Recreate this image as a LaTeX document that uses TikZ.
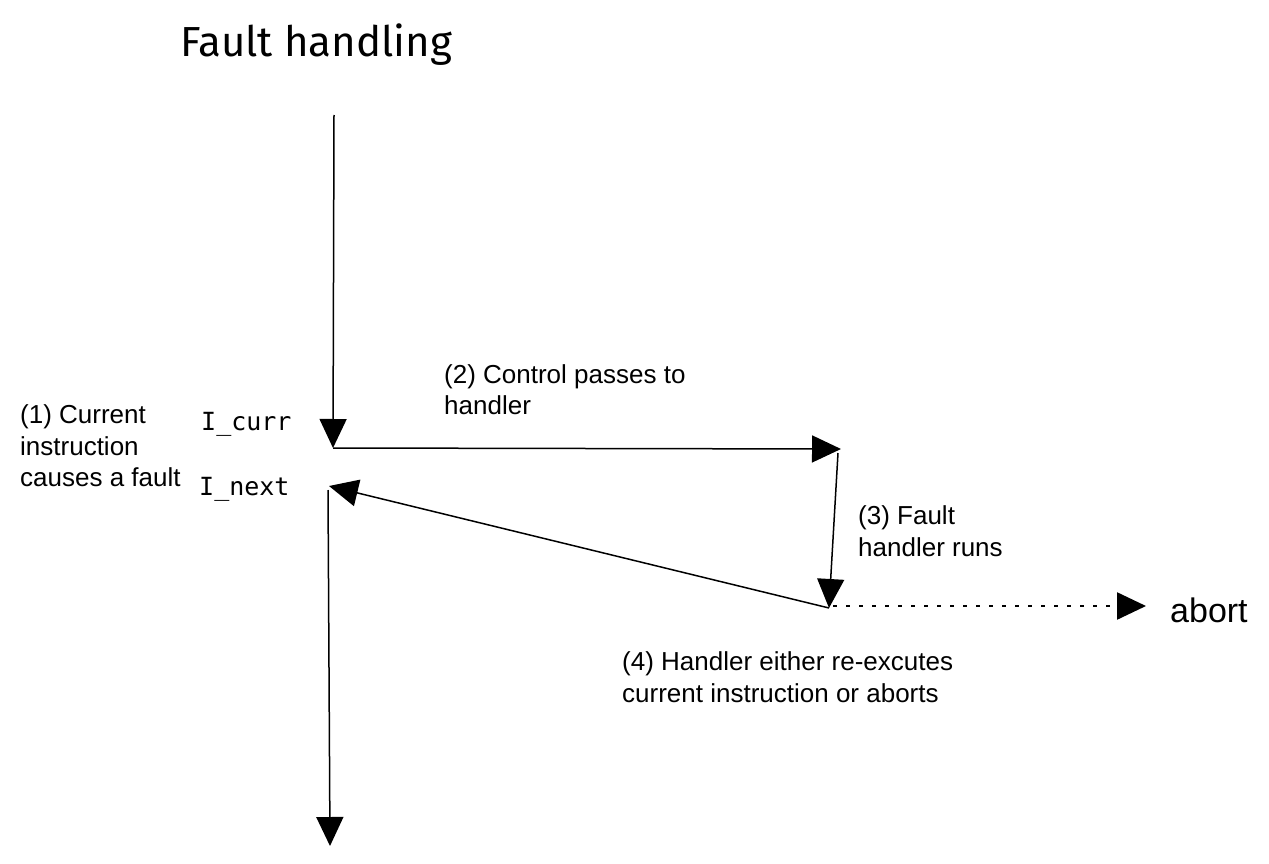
\documentclass[tikz,border=0pt]{standalone}
\usepackage{fontspec}
\setmainfont{Liberation Sans}
\newfontfamily\monofont{DejaVu Sans Mono}
\newfontfamily\titlefont{Fira Sans}
\usetikzlibrary{arrows.meta}
\begin{document}
\begin{tikzpicture}[x=1pt,y=-1pt,
  conn/.style={line width=1.5pt,-{Triangle[length=29pt,width=27pt]}},
  dotconn/.style={conn,line width=2.4pt,dash pattern=on 4pt off 9pt},
  lbl/.style={inner sep=0pt,anchor=west,align=left,font=\fontsize{26}{31.5}\selectfont},
  code/.style={inner sep=0pt,anchor=west,font=\monofont\fontsize{25}{30}\selectfont}]
\useasboundingbox (0,0) rectangle (1269,864);
\node[inner sep=0pt,anchor=west,font=\titlefont\fontsize{42}{42}\selectfont] (title) at (180,45) {Fault handling};
\coordinate (top) at (334,115);
\coordinate (curr) at (333,448);
\coordinate (handler) at (841,449);
\coordinate (hstart) at (838,453);
\coordinate (run) at (829,608);
\coordinate (back) at (329,486);
\coordinate (nstart) at (328,490);
\coordinate (bottom) at (330,846);
\coordinate (dstart) at (833,606);
\coordinate (aborttip) at (1146,606);
\draw[conn] (top) -- (curr);
\draw[conn] (curr) -- (handler);
\draw[conn] (hstart) -- (run);
\draw[conn] (run) -- (back);
\draw[conn] (nstart) -- (bottom);
\draw[dotconn] (dstart) -- (aborttip);
\node[code] (icurr) at (201,424) {I\_curr};
\node[code] (inext) at (199,489) {I\_next};
\node[lbl] (l1) at (20,446) {(1) Current\\instruction\\causes a fault};
\node[lbl] (l2) at (444,389.5) {(2) Control passes to\\handler};
\node[lbl] (l3) at (858,531) {(3) Fault\\handler runs};
\node[lbl] (l4) at (622,677) {(4) Handler either re-excutes\\current instruction or aborts};
\node[inner sep=0pt,anchor=west,font=\fontsize{34}{34}\selectfont] (abort) at (1170,610) {abort};
\end{tikzpicture}
\end{document}
